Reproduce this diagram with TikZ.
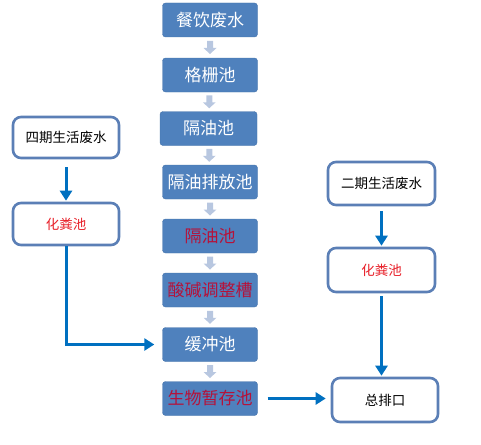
\documentclass[tikz,border=0pt]{standalone}
\usepackage{fontspec}
\newfontfamily\cjk{Noto Sans CJK SC}
\usetikzlibrary{arrows.meta,calc}
\definecolor{boxblue}{HTML}{4F81BD}
\definecolor{edgeblue}{HTML}{5B7FB6}
\definecolor{arrowblue}{HTML}{0070C0}
\definecolor{grayarrow}{HTML}{B8C7E0}
\definecolor{darkred}{HTML}{B5123A}
\definecolor{brightred}{HTML}{E8212A}
\tikzset{
  x=1pt, y=-1pt,
  mainbox/.style={fill=boxblue, draw=boxblue!90!black, line width=0.4pt, rounded corners=3pt,
    minimum width=95pt, minimum height=34pt, inner sep=0pt, text=white, font=\cjk\fontsize{17}{17}\selectfont},
  redtext/.style={text=darkred},
  sidebox/.style={fill=white, draw=edgeblue, line width=2.6pt, rounded corners=8pt,
    inner sep=0pt, font=\cjk\fontsize{13.5}{13.5}\selectfont},
  bluearrow/.style={draw=arrowblue, line width=3pt, -{Triangle[width=12pt,length=10pt]}},
  pics/grayarr/.style={code={
    \fill[grayarrow] (-3,-6.5) -- (3,-6.5) -- (3,0.5) -- (6.5,0.5) -- (0,6.5) -- (-6.5,0.5) -- (-3,0.5) -- cycle;
  }}
}
\begin{document}
\begin{tikzpicture}
\useasboundingbox (0,0) rectangle (481,444);
% central column
\node[mainbox] (b1) at (210,20) {餐饮废水};
\node[mainbox] (b2) at (210,75) {格栅池};
\node[mainbox, minimum width=97pt] (b3) at (208.5,128.5) {隔油池};
\node[mainbox] (b4) at (210,182) {隔油排放池};
\node[mainbox, redtext] (b5) at (210,236) {隔油池};
\node[mainbox, redtext] (b6) at (210,290) {酸碱调整槽};
\node[mainbox] (b7) at (210,344.5) {缓冲池};
\node[mainbox, redtext] (b8) at (210,398.5) {生物暂存池};
% gray block arrows
\foreach \a/\b in {b1/b2,b2/b3,b3/b4,b4/b5,b5/b6,b6/b7,b7/b8}{
  \path ($(\a.south)!0.5!(\b.north)$) pic {grayarr};
}
% left column
\node[sidebox, minimum width=106pt, minimum height=41pt] (l1) at (66,137.5) {四期生活废水};
\node[sidebox, minimum width=106pt, minimum height=42pt, text=brightred] (l2) at (66,224) {化粪池};
% right column
\node[sidebox, minimum width=107pt, minimum height=43pt] (r1) at (381.5,183.5) {二期生活废水};
\node[sidebox, minimum width=107pt, minimum height=44pt, text=brightred] (r2) at (381.5,270) {化粪池};
\node[sidebox, minimum width=106pt, minimum height=44pt] (out) at (385,400) {总排口};
% connectors
\coordinate (bufin) at ([xshift=-8pt]b7.west);
\draw[bluearrow, shorten <=8pt, shorten >=1pt] (l1.south) -- (l2.north);
\draw[bluearrow] (l2.south) |- (bufin);
\draw[bluearrow, shorten <=5pt, shorten >=1pt] (r1.south) -- (r2.north);
\draw[bluearrow, shorten <=3pt, shorten >=1pt] (r2.south) -- (r2.south |- out.north);
\draw[bluearrow, shorten <=10pt, shorten >=5pt] (b8.east) -- (b8.east -| out.west);
\end{tikzpicture}
\end{document}
